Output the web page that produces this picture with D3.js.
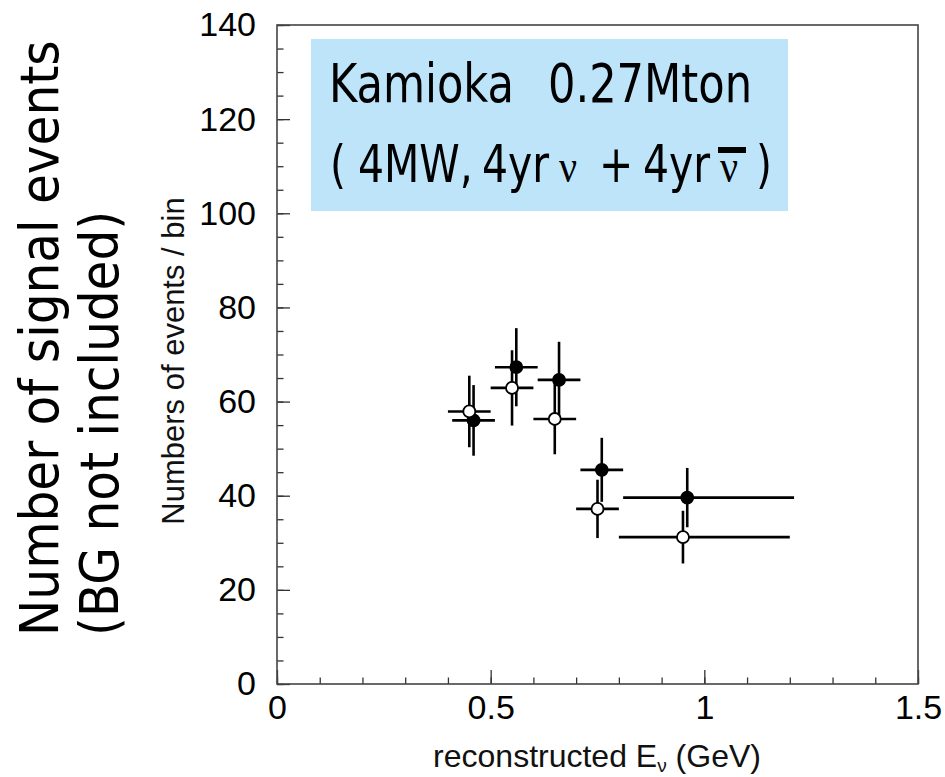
<!DOCTYPE html>
<html>
<head>
<meta charset="utf-8">
<script src="https://cdn.jsdelivr.net/npm/d3@7"></script>
<style>
  html, body { margin: 0; padding: 0; background: #fff; }
  svg { display: block; }
</style>
</head>
<body>
<svg id="chart" width="945" height="777"></svg>
<script>
// ---- data ----
const xMajorTicks = [0, 0.5, 1, 1.5];
const xTickLabels = ["0", "0.5", "1", "1.5"];
const yMajorTicks = [0, 20, 40, 60, 80, 100, 120, 140];
const yTickLabels = ["0", "20", "40", "60", "80", "100", "120", "140"];

// filled markers
const filledX   = [0.46, 0.56, 0.66, 0.76, 0.96];
const filledY   = [56.0, 67.3, 64.6, 45.5, 39.6];
const filledErr = [7.5, 8.3, 8.1, 6.8, 6.3];
const filledXLo = [0.41, 0.51, 0.61, 0.71, 0.81];
const filledXHi = [0.51, 0.61, 0.71, 0.81, 1.21];

// open markers
const openX   = [0.45, 0.55, 0.65, 0.75, 0.95];
const openY   = [57.9, 62.9, 56.3, 37.2, 31.2];
const openErr = [7.6, 8.0, 7.5, 6.2, 5.6];
const openXLo = [0.40, 0.50, 0.60, 0.70, 0.80];
const openXHi = [0.50, 0.60, 0.70, 0.80, 1.20];

// ---- chart ----
const svg = d3.select("#chart");
const L = 277, R = 918, T = 25, B = 684;
const x = d3.scaleLinear().domain([0, 1.5]).range([L, R]);
const y = d3.scaleLinear().domain([0, 140]).range([B, T]);

const tickFont = "'Liberation Sans', Arial, sans-serif";

// minor ticks
svg.append("g").attr("transform", `translate(0,${B})`)
  .call(d3.axisBottom(x).tickValues(d3.range(0, 1.5001, 0.1)).tickSize(-6.5).tickFormat(""))
  .call(g => g.select(".domain").remove())
  .selectAll("line").attr("stroke", "#333").attr("stroke-width", 1.3);
svg.append("g").attr("transform", `translate(${L},0)`)
  .call(d3.axisLeft(y).tickValues(d3.range(0, 140.001, 5)).tickSize(-6.5).tickFormat(""))
  .call(g => g.select(".domain").remove())
  .selectAll("line").attr("stroke", "#333").attr("stroke-width", 1.3);

// major ticks with labels
const xAxis = svg.append("g").attr("transform", `translate(0,${B})`)
  .call(d3.axisBottom(x).tickValues(xMajorTicks).tickSize(-14).tickPadding(11)
        .tickFormat((d, i) => xTickLabels[i]));
xAxis.select(".domain").remove();
xAxis.selectAll("line").attr("stroke", "#333").attr("stroke-width", 1.3);
xAxis.selectAll("text").attr("font-family", tickFont).attr("font-size", 34).attr("fill", "#000");

const yAxis = svg.append("g").attr("transform", `translate(${L},0)`)
  .call(d3.axisLeft(y).tickValues(yMajorTicks).tickSize(-13).tickPadding(21)
        .tickFormat((d, i) => yTickLabels[i]));
yAxis.select(".domain").remove();
yAxis.selectAll("line").attr("stroke", "#333").attr("stroke-width", 1.3);
yAxis.selectAll("text").attr("font-family", tickFont).attr("font-size", 34).attr("fill", "#000");

// frame
svg.append("rect").attr("x", L).attr("y", T).attr("width", R - L).attr("height", B - T)
  .attr("fill", "none").attr("stroke", "#444").attr("stroke-width", 1.6);

// info box
const box = svg.append("g");
box.append("rect").attr("x", 311).attr("y", 39).attr("width", 477).attr("height", 172)
  .attr("fill", "#bee4fa");
const boxFont = "'DejaVu Sans Condensed', 'DejaVu Sans', sans-serif";
const nuFont = "'Liberation Serif', 'DejaVu Serif', serif";

const t1 = box.append("text").attr("y", 102).attr("font-family", boxFont)
  .attr("font-size", 48).attr("font-stretch", "condensed").attr("fill", "#000")
  .attr("transform", "translate(0,102) scale(1,1.1) translate(0,-102)");
t1.append("tspan").attr("x", 329).text("Kamioka");
t1.append("tspan").attr("x", 548).text("0.27Mton");

const t2 = box.append("text").attr("y", 182).attr("font-family", boxFont)
  .attr("font-size", 45.5).attr("font-stretch", "condensed").attr("fill", "#000")
  .attr("transform", "translate(0,182) scale(1,1.15) translate(0,-182)");
t2.append("tspan").attr("x", 330).text("(");
t2.append("tspan").attr("x", 358).text("4MW,");
t2.append("tspan").attr("x", 482).text("4yr");
t2.append("tspan").attr("x", 559).attr("font-family", nuFont).attr("font-size", 40).text("ν");
t2.append("tspan").attr("x", 599).text("+");
t2.append("tspan").attr("x", 643).text("4yr");
t2.append("tspan").attr("x", 720).attr("font-family", nuFont).attr("font-size", 40).text("ν");
t2.append("tspan").attr("x", 756).text(")");

// overbar on anti-nu
box.append("rect").attr("x", 718).attr("y", 147).attr("width", 28).attr("height", 6).attr("fill", "#000");

// axis titles
svg.append("text")
  .attr("transform", `translate(184,361) rotate(-90)`)
  .attr("text-anchor", "middle").attr("font-family", tickFont).attr("font-size", 31)
  .attr("fill", "#111")
  .text("Numbers of events / bin");

const xt = svg.append("text").attr("x", 597).attr("y", 767).attr("text-anchor", "middle")
  .attr("font-family", tickFont).attr("font-size", 32).attr("fill", "#111");
xt.append("tspan").text("reconstructed E");
xt.append("tspan").attr("font-size", 19).attr("dy", 5).text("ν");
xt.append("tspan").attr("dy", -5).text(" (GeV)");

// outer label
const outerFont = "'DejaVu Sans Condensed', 'DejaVu Sans', sans-serif";
svg.append("text").attr("transform", "translate(58,636) rotate(-90)")
  .attr("font-family", outerFont).attr("font-stretch", "condensed").attr("font-size", 54)
  .attr("fill", "#000").text("Number of signal events");
svg.append("text").attr("transform", "translate(118,636) rotate(-90)")
  .attr("font-family", outerFont).attr("font-stretch", "condensed").attr("font-size", 54)
  .attr("fill", "#000").text("(BG not included)");

// ---- data marks ----
function drawSeries(xs, ys, errs, xlo, xhi, filled) {
  const g = svg.append("g");
  const data = xs.map((d, i) => ({ x: d, y: ys[i], e: errs[i], lo: xlo[i], hi: xhi[i] }));
  g.selectAll("line.h").data(data).join("line").attr("class", "h")
    .attr("x1", d => x(d.lo)).attr("x2", d => x(d.hi))
    .attr("y1", d => y(d.y)).attr("y2", d => y(d.y))
    .attr("stroke", "#000").attr("stroke-width", 2.6);
  g.selectAll("line.v").data(data).join("line").attr("class", "v")
    .attr("x1", d => x(d.x)).attr("x2", d => x(d.x))
    .attr("y1", d => y(d.y - d.e)).attr("y2", d => y(d.y + d.e))
    .attr("stroke", "#000").attr("stroke-width", 2.6);
  g.selectAll("circle").data(data).join("circle")
    .attr("cx", d => x(d.x)).attr("cy", d => y(d.y)).attr("r", 6)
    .attr("fill", filled ? "#000" : "#fff").attr("stroke", "#000").attr("stroke-width", 1.8);
}
drawSeries(filledX, filledY, filledErr, filledXLo, filledXHi, true);
drawSeries(openX, openY, openErr, openXLo, openXHi, false);
</script>
</body>
</html>
